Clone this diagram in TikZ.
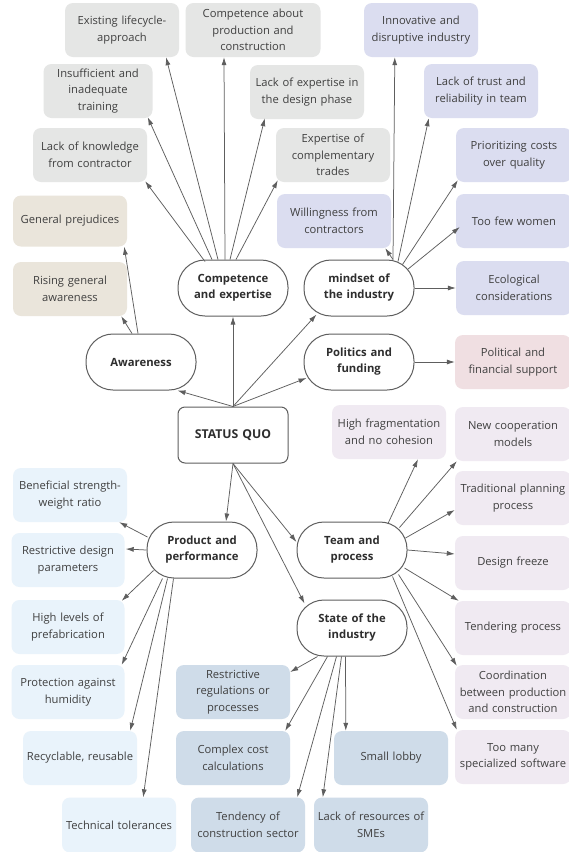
\documentclass[tikz,border=0pt]{standalone}
\usepackage{fontspec}
\setmainfont{Open Sans}
\usetikzlibrary{arrows.meta,calc}
\definecolor{cgray}{HTML}{E5E6E5}
\definecolor{cbeige}{HTML}{EAE5DB}
\definecolor{cpurple}{HTML}{DBDDF0}
\definecolor{cpink}{HTML}{F0DFE2}
\definecolor{clav}{HTML}{F0EAF2}
\definecolor{clblue}{HTML}{E9F3FB}
\definecolor{csteel}{HTML}{CFDCE9}
\definecolor{edge}{HTML}{5E5E5E}
\definecolor{txt}{HTML}{404040}
\definecolor{dark}{HTML}{2E2E2E}
\begin{document}
\begin{tikzpicture}[x=1pt,y=-1pt,
  box/.style={rounded corners=8pt, minimum width=114pt, minimum height=54pt, inner sep=1pt, text width=112pt, align=center, font=\fontsize{11.2}{16.6}\selectfont, text=txt},
  pill/.style={draw=edge, line width=1pt, fill=white, rounded corners=27pt, minimum width=110pt, minimum height=56pt, inner sep=1pt, text width=106pt, align=center, font=\bfseries\fontsize{11.3}{16}\selectfont, text=dark},
  arr/.style={draw=edge, line width=0.75pt, -{Latex[length=8pt,width=5pt]}}]
\useasboundingbox[fill=white] (0,0) rectangle (569,852);

% central
\node[pill, rounded corners=7pt, font=\bfseries\fontsize{12.2}{16}\selectfont] (sq) at (233,435) {STATUS QUO};
\node[pill] (aw) at (141,362) {Awareness};
\node[pill] (comp) at (233,288) {Competence\\and expertise};
\node[pill] (mind) at (359,288) {mindset of\\the industry};
\node[pill] (pol) at (359,362) {Politics and\\funding};
\node[pill] (prod) at (202,550) {Product and\\performance};
\node[pill] (team) at (352,550) {Team and\\process};
\node[pill] (state) at (352,628) {State of the\\industry};

% competence boxes
\node[box, fill=cgray] (life) at (122,30) {Existing lifecycle-\\approach};
\node[box, fill=cgray, minimum width=135pt, text width=133pt] (cprod) at (253,30) {Competence about\\production and\\construction};
\node[box, fill=cgray, minimum width=109pt, text width=107pt] (train) at (98,91) {Insufficient and\\inadequate\\training};
\node[box, fill=cgray] (design) at (307,92) {Lack of expertise in\\the design phase};
\node[box, fill=cgray] (know) at (90,155) {Lack of knowledge\\from contractor};
\node[box, fill=cgray] (trades) at (333,155) {Expertise of\\complementary\\trades};

% awareness boxes
\node[box, fill=cbeige, minimum height=51pt] (prej) at (70,221) {General prejudices};
\node[box, fill=cbeige] (rise) at (70,289) {Rising general\\awareness};

% mindset boxes
\node[box, fill=cpurple] (innov) at (421,30) {Innovative and\\disruptive industry};
\node[box, fill=cpurple] (trust) at (481,91) {Lack of trust and\\reliability in team};
\node[box, fill=cpurple, minimum width=116pt, text width=114pt] (prio) at (514,155) {Prioritizing costs\\over quality};
\node[box, fill=cpurple] (will) at (334,221) {Willingness from\\contractors};
\node[box, fill=cpurple, minimum width=116pt, text width=114pt] (women) at (514,221) {Too few women};
\node[box, fill=cpurple, minimum width=116pt, text width=114pt] (eco) at (514,288) {Ecological\\considerations};

% politics box
\node[box, fill=cpink, minimum width=116pt, text width=114pt] (polsup) at (513,362) {Political and\\financial support};

% team boxes
\node[box, fill=clav] (frag) at (389,432) {High fragmentation\\and no cohesion};
\node[box, fill=clav, minimum width=116pt, text width=114pt] (coop) at (513,434) {New cooperation\\models};
\node[box, fill=clav, minimum width=116pt, text width=114pt] (trad) at (513,498) {Traditional planning\\process};
\node[box, fill=clav, minimum width=116pt, text width=114pt] (freeze) at (513,563) {Design freeze};
\node[box, fill=clav, minimum width=116pt, text width=114pt] (tender) at (513,628) {Tendering process};
\node[box, fill=clav, minimum width=116pt, text width=114pt] (coord) at (513,692) {Coordination\\between production\\and construction};
\node[box, fill=clav, minimum width=116pt, text width=114pt] (soft) at (513,757) {Too many\\specialized software};

% product boxes
\node[box, fill=clblue] (bene) at (70,495) {Beneficial strength-\\weight ratio};
\node[box, fill=clblue, minimum width=113pt, text width=111pt] (restr) at (68,560) {Restrictive design\\parameters};
\node[box, fill=clblue, minimum width=113pt, text width=111pt] (prefab) at (68,627) {High levels of\\prefabrication};
\node[box, fill=clblue, minimum width=113pt, text width=111pt] (humid) at (68,692) {Protection against\\humidity};
\node[box, fill=clblue] (recyc) at (80,758) {Recyclable, reusable};
\node[box, fill=clblue, minimum height=55pt] (toler) at (119,825) {Technical tolerances};

% state boxes
\node[box, fill=csteel] (regs) at (233,692) {Restrictive\\regulations or\\processes};
\node[box, fill=csteel] (cost) at (233,758) {Complex cost\\calculations};
\node[box, fill=csteel] (lobby) at (391,758) {Small lobby};
\node[box, fill=csteel, minimum height=55pt] (tend) at (248,825) {Tendency of\\construction sector};
\node[box, fill=csteel, minimum height=55pt] (sme) at (371,825) {Lack of resources of\\SMEs};

% status quo arrows
\draw[arr] (sq.north) -- ($(aw.south east)+(-19,0)$);
\draw[arr] (sq.north) -- (comp.south);
\draw[arr] (sq.north) -- ($(mind.south west)+(13,-2)$);
\draw[arr] (sq.north) -- ($(pol.west)+(3,16)$);
\draw[arr] (sq.south) -- ($(prod.north)+(24,0)$);
\draw[arr] (sq.south) -- ($(team.west)+(0,-8)$);
\draw[arr] (sq.south) -- ($(state.north west)+(8,4)$);

% awareness arrows
\draw[arr] ($(aw.north)+(-3,0)$) -- ($(prej.south east)+(-3,0)$);
\draw[arr] ($(aw.north)+(-9,0)$) -- ($(rise.south east)+(-6,0)$);

% competence arrows
\draw[arr] ($(comp.north)+(-28,2)$) -- ($(know.south east)+(-2,-1)$);
\draw[arr] ($(comp.north)+(-21,0)$) -- ($(train.south east)+(-5,-1)$);
\draw[arr] ($(comp.north)+(-15,0)$) -- ($(life.south)+(44,0)$);
\draw[arr] ($(comp.north)+(-8,0)$) -- ($(cprod.south)+(-29,0)$);
\draw[arr] ($(comp.north)+(-3,0)$) -- ($(design.south west)+(15,-1)$);
\draw[arr] ($(comp.north)+(3,0)$) -- ($(trades.south west)+(2,-2)$);

% mindset arrows
\draw[arr] ($(mind.north)+(34,0)$) -- ($(will.south east)+(-6,0)$);
\draw[arr] ($(mind.north)+(34,0)$) -- ($(innov.south west)+(31,0)$);
\draw[arr] ($(mind.north)+(39,2)$) -- ($(trust.south west)+(5,0)$);
\draw[arr] ($(mind.north east)+(-12,5)$) -- ($(prio.south west)+(2,-2)$);
\draw[arr] ($(mind.north east)+(-7,10)$) -- ($(women.west)+(4,6)$);
\draw[arr] (mind.east) -- (eco.west);

% politics
\draw[arr] (pol.east) -- (polsup.west);

% product arrows
\draw[arr] ($(prod.west)+(1,-13)$) -- ($(bene.south east)+(-8,0)$);
\draw[arr] (prod.west) -- ($(restr.east)+(1,-11)$);
\draw[arr] ($(prod.south west)+(7,-8)$) -- ($(prefab.north east)+(-3,1)$);
\draw[arr] ($(prod.south west)+(16,0)$) -- ($(humid.north east)+(-3,0)$);
\draw[arr] ($(prod.south west)+(21,0)$) -- ($(recyc.north east)+(-7,0)$);
\draw[arr] ($(prod.south west)+(27,0)$) -- ($(toler.north east)+(-33,0)$);

% team arrows
\draw[arr] ($(team.north)+(36,2)$) -- ($(frag.south)+(29,0)$);
\draw[arr] ($(team.north east)+(-8,6)$) -- ($(coop.south west)+(2,0)$);
\draw[arr] ($(team.east)+(-2,-12)$) -- ($(trad.west)+(0,12)$);
\draw[arr] (team.east) -- ($(freeze.west)+(0,-9)$);
\draw[arr] ($(team.east)+(-3,18)$) -- ($(tender.north west)+(4,0)$);
\draw[arr] ($(team.south east)+(-9,-4)$) -- ($(coord.north west)+(2,1)$);
\draw[arr] ($(team.south east)+(-15,-2)$) -- ($(soft.north west)+(2,0)$);

% state arrows
\draw[arr] ($(state.south west)+(21,0)$) -- ($(regs.east)+(0,-20)$);
\draw[arr] ($(state.south west)+(31,0)$) -- ($(cost.north east)+(-5,0)$);
\draw[arr] ($(state.south west)+(40,0)$) -- ($(tend.north east)+(-8,0)$);
\draw[arr] ($(state.south west)+(45,0)$) -- ($(sme.north west)+(9,0)$);
\draw[arr] ($(state.south west)+(49,0)$) -- ($(lobby.north west)+(12,0)$);
\end{tikzpicture}
\end{document}
